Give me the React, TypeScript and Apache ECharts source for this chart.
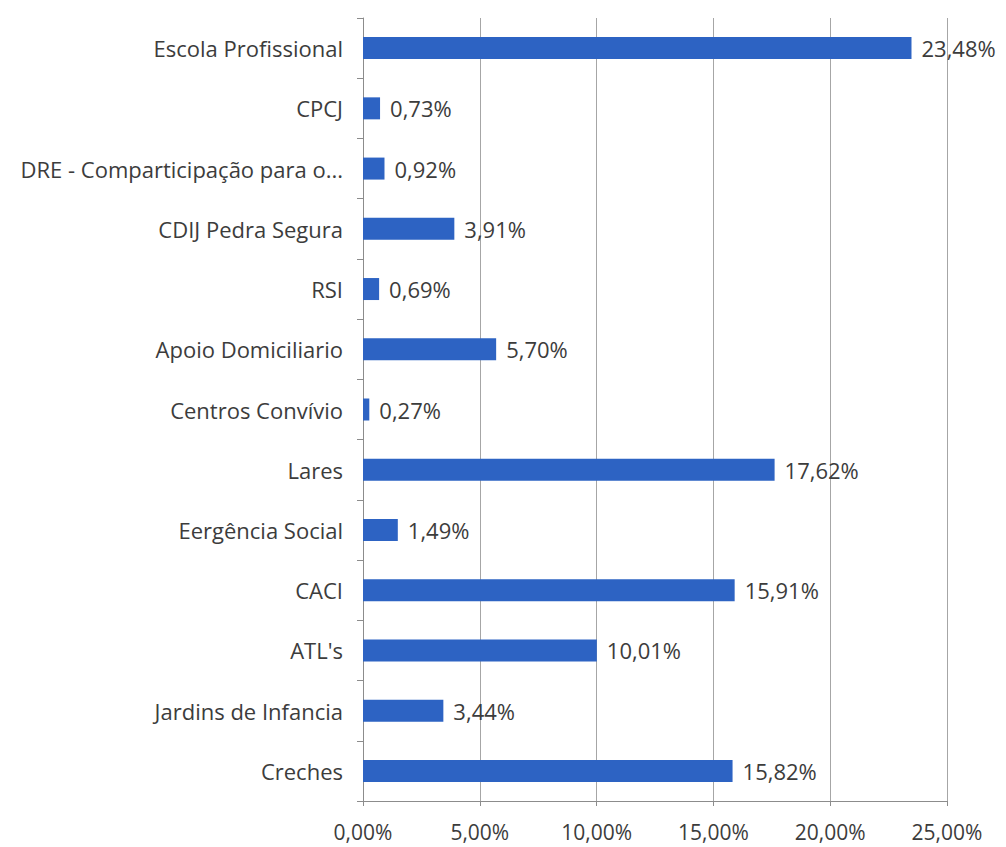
import React, { useEffect, useRef } from "react";
import * as echarts from "echarts";

const categories = [
  "Creches",
  "Jardins de Infancia",
  "ATL's",
  "CACI",
  "Eergência Social",
  "Lares",
  "Centros Convívio",
  "Apoio Domiciliario",
  "RSI",
  "CDIJ Pedra Segura",
  "DRE - Comparticipação para o...",
  "CPCJ",
  "Escola Profissional",
];
const values = [15.82, 3.44, 10.01, 15.91, 1.49, 17.62, 0.27, 5.7, 0.69, 3.91, 0.92, 0.73, 23.48];
const axisMin = 0;
const axisMax = 25;
const axisInterval = 5;

const fmt = (v: number) => v.toFixed(2).replace(".", ",") + "%";

export default function App() {
  const ref = useRef<HTMLDivElement>(null);
  useEffect(() => {
    if (!ref.current) return;
    const chart = echarts.init(ref.current, null, { renderer: "svg" });
    const font = "'Open Sans', sans-serif";
    chart.setOption({
      animation: false,
      backgroundColor: "#ffffff",
      grid: { left: 363, right: 59, top: 18, bottom: 46, containLabel: false },
      xAxis: {
        type: "value",
        min: axisMin,
        max: axisMax,
        interval: axisInterval,
        axisLine: { show: true, lineStyle: { color: "#8c8c8c", width: 1 } },
        axisTick: { show: true, length: 5, lineStyle: { color: "#8c8c8c" } },
        splitLine: { show: true, lineStyle: { color: "#a6a6a6", width: 1 } },
        axisLabel: {
          formatter: (v: number) => fmt(v),
          color: "#3c3c3c",
          fontFamily: font,
          fontSize: 21,
          lineHeight: 22,
          margin: 20,
        },
      },
      yAxis: {
        type: "category",
        data: categories,
        axisLine: { show: true, lineStyle: { color: "#8c8c8c", width: 1 } },
        axisTick: { show: true, length: 6, lineStyle: { color: "#8c8c8c" } },
        axisLabel: {
          color: "#3c3c3c",
          fontFamily: font,
          fontSize: 22,
          margin: 20,
        },
      },
      series: [
        {
          type: "bar",
          data: values,
          barWidth: 22,
          itemStyle: { color: "#2d63c3" },
          label: {
            show: true,
            position: "right",
            distance: 10,
            formatter: (p: any) => fmt(p.value),
            color: "#3c3c3c",
            fontFamily: font,
            fontSize: 22,
          },
        },
      ],
    });
    return () => chart.dispose();
  }, []);
  return (
    <div
      ref={ref}
      style={{ position: "fixed", left: 0, top: 0, width: 1006, height: 847 }}
    />
  );
}
